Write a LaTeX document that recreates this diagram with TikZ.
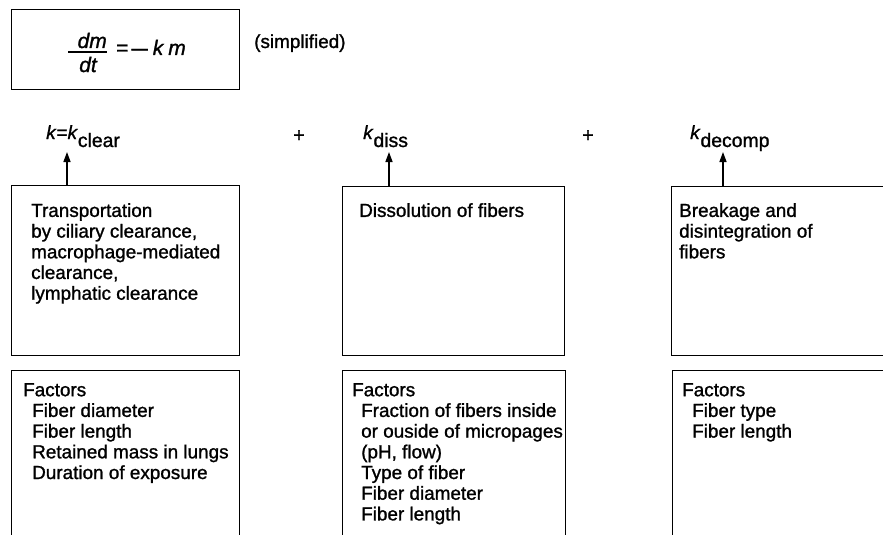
\documentclass[tikz,border=0pt]{standalone}
\usepackage{fontspec}
\setmainfont{Liberation Sans}[UprightFeatures={FakeBold=1.2}, ItalicFeatures={FakeBold=1.2}]
\usetikzlibrary{arrows.meta}
\begin{document}
\begin{tikzpicture}[x=1pt,y=-1pt,
  frame/.style={draw, line width=1.4pt, rectangle, inner sep=0pt, anchor=north west},
  body/.style={anchor=north west, inner sep=0pt, align=left, font=\fontsize{18.9}{20.7}\selectfont},
  klab/.style={anchor=base west, inner sep=0pt, font=\fontsize{19}{21}\selectfont},
  eqtext/.style={inner sep=0pt, font=\fontsize{21}{23}\selectfont\itshape},
  plus/.style={inner sep=0pt, font=\fontsize{20}{22}\selectfont},
  up/.style={-{Triangle[length=10pt,width=7pt]}, line width=1.4pt}]
\useasboundingbox (0,0) rectangle (883,535);
\clip (0,0) rectangle (883,535);

% equation box
\node[frame, minimum width=228pt, minimum height=80pt] (eqbox) at (11,9) {};
\node[eqtext, anchor=base east] (dm) at (107,48) {dm};
\node[eqtext, anchor=base] (dt) at (88,72) {dt};
\coordinate (barl) at (68,52);
\coordinate (barr) at (107,52);
\draw[line width=1.3pt] (barl) -- (barr);
\node[eqtext, anchor=base west] (rhs) at (116,55) {\upshape =\hspace{3pt}\scalebox{1.4}[1]{–}\hspace{5pt}\itshape k\hspace{5pt}m};
\node[anchor=base west, inner sep=0pt, font=\fontsize{18.9}{20.7}\selectfont] (simp) at (254,48) {(simplified)};

% rate labels
\node[klab] (kclear) at (46,139) {\textit{k}=\textit{k}\raisebox{-8pt}{\fontsize{19.4}{20}\selectfont clear}};
\node[plus] (plus1) at (299,136) {+};
\node[klab] (kdiss) at (363,139) {\textit{k}\raisebox{-8pt}{\fontsize{19.4}{20}\selectfont diss}};
\node[plus] (plus2) at (588,136) {+};
\node[klab] (kdecomp) at (690,139) {\textit{k}\raisebox{-8pt}{\fontsize{19.4}{20}\selectfont decomp}};

% process boxes
\node[frame, minimum width=228pt, minimum height=170pt] (b1) at (11,185) {};
\node[frame, minimum width=222pt, minimum height=169pt] (b2) at (342,186) {};
\node[frame, minimum width=260pt, minimum height=169pt] (b3) at (671,186) {};

\node[body] (t1) at (31,203) {Transportation\\by ciliary clearance,\\macrophage-mediated\\clearance,\\lymphatic clearance};
\node[body] (t2) at (359,203) {Dissolution of fibers};
\node[body] (t3) at (679,203) {Breakage and\\disintegration of\\fibers};

% arrows
\coordinate (tip1) at (67,152);
\coordinate (tip2) at (389,152);
\coordinate (tip3) at (723,152);
\draw[up] (tip1 |- b1.north) -- (tip1);
\draw[up] (tip2 |- b2.north) -- (tip2);
\draw[up] (tip3 |- b3.north) -- (tip3);

% factor boxes
\node[frame, minimum width=228pt, minimum height=200pt] (f1) at (11,370) {};
\node[frame, minimum width=223pt, minimum height=200pt] (f2) at (342,370) {};
\node[frame, minimum width=260pt, minimum height=200pt] (f3) at (672,370) {};

\node[body] (ft1) at (23,383) {Factors\\\hspace*{9pt}Fiber diameter\\\hspace*{9pt}Fiber length\\\hspace*{9pt}Retained mass in lungs\\\hspace*{9pt}Duration of exposure};
\node[body] (ft2) at (352,383) {Factors\\\hspace*{9pt}Fraction of fibers inside\\\hspace*{9pt}or ouside of micropages\\\hspace*{9pt}(pH, flow)\\\hspace*{9pt}Type of fiber\\\hspace*{9pt}Fiber diameter\\\hspace*{9pt}Fiber length};
\node[body] (ft3) at (682,383) {Factors\\\hspace*{10pt}Fiber type\\\hspace*{10pt}Fiber length};
\end{tikzpicture}
\end{document}
